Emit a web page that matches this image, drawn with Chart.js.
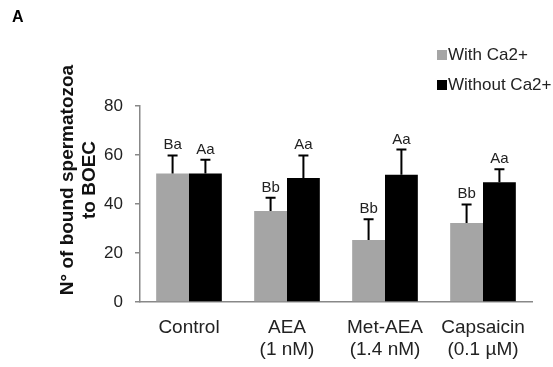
<!DOCTYPE html>
<html>
<head>
<meta charset="utf-8">
<script src="https://cdn.jsdelivr.net/npm/chart.js@4.4.1/dist/chart.umd.min.js"></script>
<style>
  html, body { margin: 0; padding: 0; background: #fff; }
  #wrap { width: 553px; height: 367px; position: relative; }
</style>
</head>
<body>
<div id="wrap"><canvas id="grafico" width="553" height="367"></canvas></div>
<script>
// Datos
const categorias = ['Control', ['AEA', '(1 nM)'], ['Met-AEA', '(1.4 nM)'], ['Capsaicin', '(0.1 µM)']];
const conCalcio = [52.5, 37.1, 25.3, 32.2];
const sinCalcio = [52.5, 50.6, 51.9, 48.9];
const errorConCalcio = [7.3, 5.5, 8.5, 7.6];
const errorSinCalcio = [5.6, 9.2, 10.3, 5.3];
const letrasConCalcio = ['Ba', 'Bb', 'Bb', 'Bb'];
const letrasSinCalcio = ['Aa', 'Aa', 'Aa', 'Aa'];
const ticksY = [0, 20, 40, 60, 80];

const FUENTE = '"Liberation Sans", Arial, sans-serif';

// Plugin: barras de error, letras, leyenda, título del eje y la "A"
const extras = {
  id: 'extras',
  afterDatasetsDraw(chart) {
    const ctx = chart.ctx;
    const y = chart.scales.y;
    const errores = [errorConCalcio, errorSinCalcio];
    const letras = [letrasConCalcio, letrasSinCalcio];
    ctx.save();
    chart.data.datasets.forEach(function (ds, i) {
      const meta = chart.getDatasetMeta(i);
      meta.data.forEach(function (bar, j) {
        const top = y.getPixelForValue(ds.data[j] + errores[i][j]);
        ctx.strokeStyle = '#000';
        ctx.lineWidth = 2;
        ctx.beginPath();
        ctx.moveTo(bar.x, bar.y);
        ctx.lineTo(bar.x, top);
        ctx.moveTo(bar.x - 5, top);
        ctx.lineTo(bar.x + 5, top);
        ctx.stroke();
        ctx.fillStyle = '#222';
        ctx.font = '15px ' + FUENTE;
        ctx.textAlign = 'center';
        ctx.textBaseline = 'alphabetic';
        ctx.fillText(letras[i][j], bar.x, top - 6);
      });
    });
    ctx.restore();
  },
  afterDraw(chart) {
    const ctx = chart.ctx;
    ctx.save();
    // letra del panel
    ctx.fillStyle = '#000';
    ctx.font = 'bold 16px ' + FUENTE;
    ctx.textAlign = 'left';
    ctx.textBaseline = 'middle';
    ctx.fillText('A', 12, 18);
    // leyenda
    ctx.font = '17px ' + FUENTE;
    chart.data.datasets.forEach(function (ds, i) {
      const cy = 55 + i * 30;
      ctx.fillStyle = ds.backgroundColor;
      ctx.fillRect(437, cy - 5, 10, 10);
      ctx.fillStyle = '#222';
      ctx.fillText(ds.label, 448, cy);
    });
    // título del eje y
    ctx.translate(81, 180);
    ctx.rotate(-Math.PI / 2);
    ctx.fillStyle = '#111';
    ctx.font = 'bold 19px ' + FUENTE;
    ctx.textAlign = 'center';
    ctx.fillText('N° of bound spermatozoa', 0, -13);
    ctx.fillText('to BOEC', 0, 9);
    ctx.restore();
  }
};

new Chart(document.getElementById('grafico'), {
  type: 'bar',
  data: {
    labels: categorias,
    datasets: [
      { label: 'With Ca2+', data: conCalcio, backgroundColor: '#a5a5a5', borderWidth: 0 },
      { label: 'Without Ca2+', data: sinCalcio, backgroundColor: '#000000', borderWidth: 0 }
    ]
  },
  options: {
    responsive: false,
    animation: false,
    layout: { padding: { top: 106, right: 21, bottom: 0, left: 0 } },
    categoryPercentage: 0.67,
    barPercentage: 1.0,
    plugins: {
      legend: { display: false },
      tooltip: { enabled: false }
    },
    scales: {
      x: {
        grid: { display: false, drawTicks: false },
        border: { color: '#888', width: 1.5 },
        ticks: {
          color: '#222',
          font: { family: FUENTE, size: 19, lineHeight: 1.16 },
          padding: 15,
          maxRotation: 0,
          autoSkip: false
        },
        afterFit(scale) { scale.height = 65; }
      },
      y: {
        min: 0,
        max: 80,
        afterBuildTicks(scale) { scale.ticks = ticksY.map(v => ({ value: v })); },
        grid: { drawOnChartArea: false, tickLength: 5, color: '#888', lineWidth: 1.5 },
        border: { color: '#888', width: 1.5 },
        ticks: {
          color: '#222',
          font: { family: FUENTE, size: 17 },
          padding: 12
        },
        afterFit(scale) { scale.width = 140; }
      }
    }
  },
  plugins: [extras]
});
</script>
</body>
</html>
